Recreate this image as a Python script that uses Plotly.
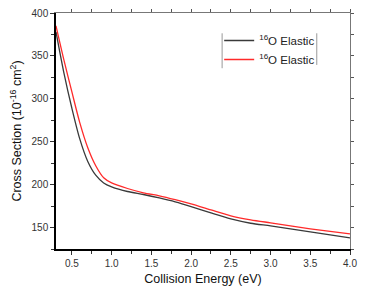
import plotly.graph_objects as go

energy = [0.3, 0.4, 0.5, 0.6, 0.7, 0.8, 0.9, 1.0, 1.2, 1.4, 1.6, 1.8, 2.0, 2.25, 2.5, 2.75, 3.0, 3.25, 3.5, 3.75, 4.0]
black_cs = [378, 330, 289, 253, 227, 211, 202, 197.5, 192, 188.5, 184.5, 180, 174.5, 167, 160, 155, 152, 148.5, 145, 141.5, 138]
red_cs = [385, 345, 308, 272, 243, 222, 208, 202, 195.5, 190.5, 187, 182.5, 177.5, 170.5, 163.7, 159, 155.5, 152, 148.5, 145.5, 142.6]
series_names = ["<sup>16</sup>O Elastic", "<sup>16</sup>O Elastic"]

font_family = "Liberation Sans, Arial, sans-serif"

fig = go.Figure()
fig.add_trace(go.Scatter(x=energy, y=black_cs, mode="lines", name=series_names[0],
                         line=dict(color="#3a3a3a", width=1.3, shape="spline", smoothing=0.8)))
fig.add_trace(go.Scatter(x=energy, y=red_cs, mode="lines", name=series_names[1],
                         line=dict(color="#ff2a2a", width=1.3, shape="spline", smoothing=0.8)))
fig.add_trace(go.Scatter(x=[energy[0]], y=[black_cs[0]], xaxis="x2", yaxis="y2",
                         mode="lines", showlegend=False, hoverinfo="skip",
                         line=dict(color="rgba(0,0,0,0)")))

tickfont = dict(family=font_family, size=10, color="#333333")
fig.update_layout(
    width=359, height=283, autosize=False,
    margin=dict(l=48, r=17, t=5, b=42, autoexpand=False),
    paper_bgcolor="white", plot_bgcolor="white",
    font=dict(family=font_family, color="#222222"),
    xaxis=dict(range=[0.3, 4.0], dtick=0.5, tick0=0.5, tickformat=".1f", automargin=False,
               ticklabeloverflow="allow",
               showgrid=False, zeroline=False, showline=True, linecolor="black", linewidth=1.5,
               ticks="outside", ticklen=4, tickwidth=1, tickcolor="#333",
               minor=dict(dtick=0.25, tick0=0.25, ticks="outside", ticklen=3, tickcolor="#333"),
               tickfont=tickfont,
               title=dict(text="Collision Energy (eV)", font=dict(size=12.5, color="#111"), standoff=6)),
    yaxis=dict(range=[125, 400], dtick=50, tick0=150, automargin=False,
               ticklabeloverflow="allow",
               showgrid=False, zeroline=False, showline=True, linecolor="black", linewidth=1.5,
               ticks="outside", ticklen=4, tickwidth=1, tickcolor="#333",
               minor=dict(dtick=25, ticks="outside", ticklen=3, tickcolor="#333"),
               tickfont=tickfont,
               title=dict(text="Cross Section (10<sup>-16</sup> cm<sup>2</sup>)",
                          font=dict(size=12.5, color="#111"), standoff=8)),
    xaxis2=dict(range=[0.3, 4.0], overlaying="x", side="top", automargin=False,
                showticklabels=False, showgrid=False, zeroline=False,
                showline=True, linecolor="#777", linewidth=1,
                ticks="outside", ticklen=3, tickcolor="#555", dtick=0.25, tick0=0.25),
    yaxis2=dict(range=[125, 400], overlaying="y", side="right", automargin=False,
                showticklabels=False, showgrid=False, zeroline=False,
                showline=True, linecolor="#777", linewidth=1,
                ticks="outside", ticklen=3, tickcolor="#555", dtick=25, tick0=150),
    legend=dict(x=0.555, y=0.945, xanchor="left", yanchor="top",
                bgcolor="rgba(0,0,0,0)", borderwidth=0,
                font=dict(family=font_family, size=11.5, color="#222"),
                tracegroupgap=0, itemwidth=30),
    showlegend=True,
    shapes=[
        dict(type="line", xref="paper", yref="paper", x0=0.565, x1=0.565, y0=0.766, y1=0.914,
             line=dict(color="#999", width=1)),
        dict(type="line", xref="paper", yref="paper", x0=0.887, x1=0.887, y0=0.78, y1=0.914,
             line=dict(color="#999", width=1)),
    ],
)

fig.write_html("out.html")
